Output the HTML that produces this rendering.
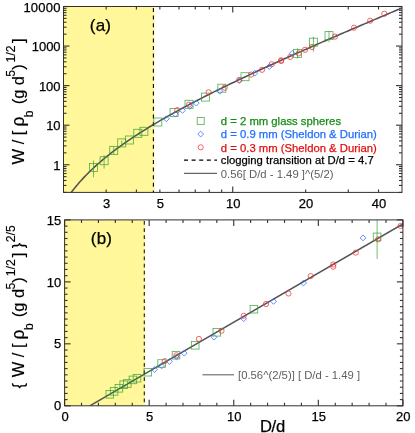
<!DOCTYPE html>
<html><head><meta charset="utf-8"><title>chart</title>
<style>html,body{margin:0;padding:0;background:#fff;}svg{display:block;font-family:'Liberation Sans', sans-serif;will-change:transform;opacity:0.999;}</style></head><body>
<svg width="415" height="433" viewBox="0 0 415 433">
<rect x="0" y="0" width="415" height="433" fill="#ffffff"/>
<g id="panelA">
<rect x="63.5" y="6.5" width="90.9" height="185.9" fill="#FFF799"/>
<line x1="63.5" y1="192.4" x2="66.5" y2="192.4" stroke="#303030" stroke-width="1.1" />
<line x1="402" y1="192.4" x2="399" y2="192.4" stroke="#303030" stroke-width="1.1" />
<line x1="63.5" y1="185.43" x2="66.5" y2="185.43" stroke="#303030" stroke-width="1.1" />
<line x1="402" y1="185.43" x2="399" y2="185.43" stroke="#303030" stroke-width="1.1" />
<line x1="63.5" y1="180.49" x2="66.5" y2="180.49" stroke="#303030" stroke-width="1.1" />
<line x1="402" y1="180.49" x2="399" y2="180.49" stroke="#303030" stroke-width="1.1" />
<line x1="63.5" y1="176.66" x2="66.5" y2="176.66" stroke="#303030" stroke-width="1.1" />
<line x1="402" y1="176.66" x2="399" y2="176.66" stroke="#303030" stroke-width="1.1" />
<line x1="63.5" y1="173.52" x2="66.5" y2="173.52" stroke="#303030" stroke-width="1.1" />
<line x1="402" y1="173.52" x2="399" y2="173.52" stroke="#303030" stroke-width="1.1" />
<line x1="63.5" y1="170.88" x2="66.5" y2="170.88" stroke="#303030" stroke-width="1.1" />
<line x1="402" y1="170.88" x2="399" y2="170.88" stroke="#303030" stroke-width="1.1" />
<line x1="63.5" y1="168.58" x2="66.5" y2="168.58" stroke="#303030" stroke-width="1.1" />
<line x1="402" y1="168.58" x2="399" y2="168.58" stroke="#303030" stroke-width="1.1" />
<line x1="63.5" y1="166.56" x2="66.5" y2="166.56" stroke="#303030" stroke-width="1.1" />
<line x1="402" y1="166.56" x2="399" y2="166.56" stroke="#303030" stroke-width="1.1" />
<line x1="63.5" y1="164.75" x2="69.5" y2="164.75" stroke="#303030" stroke-width="1.1" />
<line x1="402" y1="164.75" x2="396" y2="164.75" stroke="#303030" stroke-width="1.1" />
<line x1="63.5" y1="152.84" x2="66.5" y2="152.84" stroke="#303030" stroke-width="1.1" />
<line x1="402" y1="152.84" x2="399" y2="152.84" stroke="#303030" stroke-width="1.1" />
<line x1="63.5" y1="145.87" x2="66.5" y2="145.87" stroke="#303030" stroke-width="1.1" />
<line x1="402" y1="145.87" x2="399" y2="145.87" stroke="#303030" stroke-width="1.1" />
<line x1="63.5" y1="140.93" x2="66.5" y2="140.93" stroke="#303030" stroke-width="1.1" />
<line x1="402" y1="140.93" x2="399" y2="140.93" stroke="#303030" stroke-width="1.1" />
<line x1="63.5" y1="137.09" x2="66.5" y2="137.09" stroke="#303030" stroke-width="1.1" />
<line x1="402" y1="137.09" x2="399" y2="137.09" stroke="#303030" stroke-width="1.1" />
<line x1="63.5" y1="133.96" x2="66.5" y2="133.96" stroke="#303030" stroke-width="1.1" />
<line x1="402" y1="133.96" x2="399" y2="133.96" stroke="#303030" stroke-width="1.1" />
<line x1="63.5" y1="131.31" x2="66.5" y2="131.31" stroke="#303030" stroke-width="1.1" />
<line x1="402" y1="131.31" x2="399" y2="131.31" stroke="#303030" stroke-width="1.1" />
<line x1="63.5" y1="129.02" x2="66.5" y2="129.02" stroke="#303030" stroke-width="1.1" />
<line x1="402" y1="129.02" x2="399" y2="129.02" stroke="#303030" stroke-width="1.1" />
<line x1="63.5" y1="127" x2="66.5" y2="127" stroke="#303030" stroke-width="1.1" />
<line x1="402" y1="127" x2="399" y2="127" stroke="#303030" stroke-width="1.1" />
<line x1="63.5" y1="125.19" x2="69.5" y2="125.19" stroke="#303030" stroke-width="1.1" />
<line x1="402" y1="125.19" x2="396" y2="125.19" stroke="#303030" stroke-width="1.1" />
<line x1="63.5" y1="113.28" x2="66.5" y2="113.28" stroke="#303030" stroke-width="1.1" />
<line x1="402" y1="113.28" x2="399" y2="113.28" stroke="#303030" stroke-width="1.1" />
<line x1="63.5" y1="106.31" x2="66.5" y2="106.31" stroke="#303030" stroke-width="1.1" />
<line x1="402" y1="106.31" x2="399" y2="106.31" stroke="#303030" stroke-width="1.1" />
<line x1="63.5" y1="101.37" x2="66.5" y2="101.37" stroke="#303030" stroke-width="1.1" />
<line x1="402" y1="101.37" x2="399" y2="101.37" stroke="#303030" stroke-width="1.1" />
<line x1="63.5" y1="97.53" x2="66.5" y2="97.53" stroke="#303030" stroke-width="1.1" />
<line x1="402" y1="97.53" x2="399" y2="97.53" stroke="#303030" stroke-width="1.1" />
<line x1="63.5" y1="94.4" x2="66.5" y2="94.4" stroke="#303030" stroke-width="1.1" />
<line x1="402" y1="94.4" x2="399" y2="94.4" stroke="#303030" stroke-width="1.1" />
<line x1="63.5" y1="91.75" x2="66.5" y2="91.75" stroke="#303030" stroke-width="1.1" />
<line x1="402" y1="91.75" x2="399" y2="91.75" stroke="#303030" stroke-width="1.1" />
<line x1="63.5" y1="89.46" x2="66.5" y2="89.46" stroke="#303030" stroke-width="1.1" />
<line x1="402" y1="89.46" x2="399" y2="89.46" stroke="#303030" stroke-width="1.1" />
<line x1="63.5" y1="87.43" x2="66.5" y2="87.43" stroke="#303030" stroke-width="1.1" />
<line x1="402" y1="87.43" x2="399" y2="87.43" stroke="#303030" stroke-width="1.1" />
<line x1="63.5" y1="85.62" x2="69.5" y2="85.62" stroke="#303030" stroke-width="1.1" />
<line x1="402" y1="85.62" x2="396" y2="85.62" stroke="#303030" stroke-width="1.1" />
<line x1="63.5" y1="73.71" x2="66.5" y2="73.71" stroke="#303030" stroke-width="1.1" />
<line x1="402" y1="73.71" x2="399" y2="73.71" stroke="#303030" stroke-width="1.1" />
<line x1="63.5" y1="66.75" x2="66.5" y2="66.75" stroke="#303030" stroke-width="1.1" />
<line x1="402" y1="66.75" x2="399" y2="66.75" stroke="#303030" stroke-width="1.1" />
<line x1="63.5" y1="61.81" x2="66.5" y2="61.81" stroke="#303030" stroke-width="1.1" />
<line x1="402" y1="61.81" x2="399" y2="61.81" stroke="#303030" stroke-width="1.1" />
<line x1="63.5" y1="57.97" x2="66.5" y2="57.97" stroke="#303030" stroke-width="1.1" />
<line x1="402" y1="57.97" x2="399" y2="57.97" stroke="#303030" stroke-width="1.1" />
<line x1="63.5" y1="54.84" x2="66.5" y2="54.84" stroke="#303030" stroke-width="1.1" />
<line x1="402" y1="54.84" x2="399" y2="54.84" stroke="#303030" stroke-width="1.1" />
<line x1="63.5" y1="52.19" x2="66.5" y2="52.19" stroke="#303030" stroke-width="1.1" />
<line x1="402" y1="52.19" x2="399" y2="52.19" stroke="#303030" stroke-width="1.1" />
<line x1="63.5" y1="49.9" x2="66.5" y2="49.9" stroke="#303030" stroke-width="1.1" />
<line x1="402" y1="49.9" x2="399" y2="49.9" stroke="#303030" stroke-width="1.1" />
<line x1="63.5" y1="47.87" x2="66.5" y2="47.87" stroke="#303030" stroke-width="1.1" />
<line x1="402" y1="47.87" x2="399" y2="47.87" stroke="#303030" stroke-width="1.1" />
<line x1="63.5" y1="46.06" x2="69.5" y2="46.06" stroke="#303030" stroke-width="1.1" />
<line x1="402" y1="46.06" x2="396" y2="46.06" stroke="#303030" stroke-width="1.1" />
<line x1="63.5" y1="34.15" x2="66.5" y2="34.15" stroke="#303030" stroke-width="1.1" />
<line x1="402" y1="34.15" x2="399" y2="34.15" stroke="#303030" stroke-width="1.1" />
<line x1="63.5" y1="27.19" x2="66.5" y2="27.19" stroke="#303030" stroke-width="1.1" />
<line x1="402" y1="27.19" x2="399" y2="27.19" stroke="#303030" stroke-width="1.1" />
<line x1="63.5" y1="22.24" x2="66.5" y2="22.24" stroke="#303030" stroke-width="1.1" />
<line x1="402" y1="22.24" x2="399" y2="22.24" stroke="#303030" stroke-width="1.1" />
<line x1="63.5" y1="18.41" x2="66.5" y2="18.41" stroke="#303030" stroke-width="1.1" />
<line x1="402" y1="18.41" x2="399" y2="18.41" stroke="#303030" stroke-width="1.1" />
<line x1="63.5" y1="15.28" x2="66.5" y2="15.28" stroke="#303030" stroke-width="1.1" />
<line x1="402" y1="15.28" x2="399" y2="15.28" stroke="#303030" stroke-width="1.1" />
<line x1="63.5" y1="12.63" x2="66.5" y2="12.63" stroke="#303030" stroke-width="1.1" />
<line x1="402" y1="12.63" x2="399" y2="12.63" stroke="#303030" stroke-width="1.1" />
<line x1="63.5" y1="10.33" x2="66.5" y2="10.33" stroke="#303030" stroke-width="1.1" />
<line x1="402" y1="10.33" x2="399" y2="10.33" stroke="#303030" stroke-width="1.1" />
<line x1="63.5" y1="8.31" x2="66.5" y2="8.31" stroke="#303030" stroke-width="1.1" />
<line x1="402" y1="8.31" x2="399" y2="8.31" stroke="#303030" stroke-width="1.1" />
<line x1="63.5" y1="6.5" x2="69.5" y2="6.5" stroke="#303030" stroke-width="1.1" />
<line x1="402" y1="6.5" x2="396" y2="6.5" stroke="#303030" stroke-width="1.1" />
<line x1="106.14" y1="192.4" x2="106.14" y2="189.4" stroke="#303030" stroke-width="1.1" />
<line x1="106.14" y1="6.5" x2="106.14" y2="9.5" stroke="#303030" stroke-width="1.1" />
<line x1="136.39" y1="192.4" x2="136.39" y2="189.4" stroke="#303030" stroke-width="1.1" />
<line x1="136.39" y1="6.5" x2="136.39" y2="9.5" stroke="#303030" stroke-width="1.1" />
<line x1="159.86" y1="192.4" x2="159.86" y2="189.4" stroke="#303030" stroke-width="1.1" />
<line x1="159.86" y1="6.5" x2="159.86" y2="9.5" stroke="#303030" stroke-width="1.1" />
<line x1="179.03" y1="192.4" x2="179.03" y2="189.4" stroke="#303030" stroke-width="1.1" />
<line x1="179.03" y1="6.5" x2="179.03" y2="9.5" stroke="#303030" stroke-width="1.1" />
<line x1="195.24" y1="192.4" x2="195.24" y2="189.4" stroke="#303030" stroke-width="1.1" />
<line x1="195.24" y1="6.5" x2="195.24" y2="9.5" stroke="#303030" stroke-width="1.1" />
<line x1="209.28" y1="192.4" x2="209.28" y2="189.4" stroke="#303030" stroke-width="1.1" />
<line x1="209.28" y1="6.5" x2="209.28" y2="9.5" stroke="#303030" stroke-width="1.1" />
<line x1="221.67" y1="192.4" x2="221.67" y2="189.4" stroke="#303030" stroke-width="1.1" />
<line x1="221.67" y1="6.5" x2="221.67" y2="9.5" stroke="#303030" stroke-width="1.1" />
<line x1="232.75" y1="192.4" x2="232.75" y2="186.4" stroke="#303030" stroke-width="1.1" />
<line x1="232.75" y1="6.5" x2="232.75" y2="12.5" stroke="#303030" stroke-width="1.1" />
<line x1="305.64" y1="192.4" x2="305.64" y2="189.4" stroke="#303030" stroke-width="1.1" />
<line x1="305.64" y1="6.5" x2="305.64" y2="9.5" stroke="#303030" stroke-width="1.1" />
<line x1="348.28" y1="192.4" x2="348.28" y2="189.4" stroke="#303030" stroke-width="1.1" />
<line x1="348.28" y1="6.5" x2="348.28" y2="9.5" stroke="#303030" stroke-width="1.1" />
<line x1="378.53" y1="192.4" x2="378.53" y2="189.4" stroke="#303030" stroke-width="1.1" />
<line x1="378.53" y1="6.5" x2="378.53" y2="9.5" stroke="#303030" stroke-width="1.1" />
<clipPath id="clipA"><rect x="63.5" y="6.5" width="338.5" height="185.9"/></clipPath>
<polyline clip-path="url(#clipA)" fill="none" stroke="#525256" stroke-width="1.55" points="71.2,192.43 72.86,190.27 74.51,188.18 76.17,186.16 77.82,184.2 79.47,182.3 81.13,180.45 82.78,178.64 84.43,176.89 86.09,175.17 87.74,173.5 89.4,171.87 91.05,170.26 92.7,168.7 94.36,167.16 96.01,165.66 97.67,164.18 99.32,162.73 100.97,161.31 102.63,159.91 104.28,158.53 105.94,157.17 107.59,155.84 109.24,154.52 110.9,153.23 112.55,151.95 114.21,150.69 115.86,149.45 117.51,148.22 119.17,147.01 120.82,145.81 122.48,144.63 124.13,143.46 125.78,142.31 127.44,141.17 129.09,140.03 130.75,138.92 132.4,137.81 134.05,136.71 135.71,135.63 137.36,134.55 139.02,133.48 140.67,132.43 142.32,131.38 143.98,130.34 145.63,129.31 147.29,128.29 148.94,127.28 150.59,126.27 152.25,125.28 153.9,124.28 155.56,123.3 157.21,122.33 158.86,121.36 160.52,120.39 162.17,119.44 163.83,118.49 165.48,117.54 167.13,116.6 168.79,115.67 170.44,114.74 172.1,113.82 173.75,112.9 175.4,111.99 177.06,111.08 178.71,110.18 180.37,109.28 182.02,108.39 183.67,107.5 185.33,106.62 186.98,105.74 188.64,104.86 190.29,103.99 191.94,103.12 193.6,102.26 195.25,101.4 196.91,100.54 198.56,99.69 200.21,98.84 201.87,98 203.52,97.15 205.18,96.31 206.83,95.48 208.48,94.64 210.14,93.81 211.79,92.99 213.45,92.16 215.1,91.34 216.75,90.52 218.41,89.71 220.06,88.89 221.72,88.08 223.37,87.27 225.02,86.47 226.68,85.66 228.33,84.86 229.99,84.07 231.64,83.27 233.29,82.47 234.95,81.68 236.6,80.89 238.26,80.1 239.91,79.32 241.56,78.53 243.22,77.75 244.87,76.97 246.53,76.19 248.18,75.42 249.83,74.64 251.49,73.87 253.14,73.1 254.8,72.33 256.45,71.56 258.1,70.8 259.76,70.03 261.41,69.27 263.07,68.51 264.72,67.75 266.37,66.99 268.03,66.23 269.68,65.48 271.34,64.72 272.99,63.97 274.64,63.22 276.3,62.47 277.95,61.72 279.61,60.97 281.26,60.23 282.91,59.48 284.57,58.74 286.22,58 287.88,57.26 289.53,56.52 291.18,55.78 292.84,55.04 294.49,54.3 296.14,53.56 297.8,52.83 299.45,52.1 301.11,51.36 302.76,50.63 304.41,49.9 306.07,49.17 307.72,48.44 309.38,47.71 311.03,46.98 312.68,46.26 314.34,45.53 315.99,44.81 317.65,44.08 319.3,43.36 320.95,42.64 322.61,41.91 324.26,41.19 325.92,40.47 327.57,39.75 329.22,39.04 330.88,38.32 332.53,37.6 334.19,36.88 335.84,36.17 337.49,35.45 339.15,34.74 340.8,34.02 342.46,33.31 344.11,32.6 345.76,31.89 347.42,31.17 349.07,30.46 350.73,29.75 352.38,29.04 354.03,28.33 355.69,27.63 357.34,26.92 359,26.21 360.65,25.5 362.3,24.8 363.96,24.09 365.61,23.38 367.27,22.68 368.92,21.98 370.57,21.27 372.23,20.57 373.88,19.86 375.54,19.16 377.19,18.46 378.84,17.76 380.5,17.06 382.15,16.35 383.81,15.65 385.46,14.95 387.11,14.25 388.77,13.55 390.42,12.86 392.08,12.16 393.73,11.46 395.38,10.76 397.04,10.06 398.69,9.37 400.35,8.67 402,7.97"/>
<line x1="153.4" y1="6.5" x2="153.4" y2="192.4" stroke="#000" stroke-width="1.1" stroke-dasharray="4 3.6" stroke-dashoffset="-1.5"/>
<line x1="93.5" y1="160.5" x2="93.5" y2="177.2" stroke="#2e9e2e" stroke-width="0.85" stroke-opacity="0.8"/>
<rect x="89.5" y="163.5" width="8" height="8" fill="none" stroke="#2e9e2e" stroke-width="0.85" stroke-opacity="0.8"/>
<line x1="104.1" y1="155.3" x2="104.1" y2="168.6" stroke="#2e9e2e" stroke-width="0.85" stroke-opacity="0.8"/>
<rect x="100.1" y="156.7" width="8" height="8" fill="none" stroke="#2e9e2e" stroke-width="0.85" stroke-opacity="0.8"/>
<line x1="113.7" y1="146.8" x2="113.7" y2="154.6" stroke="#2e9e2e" stroke-width="0.85" stroke-opacity="0.8"/>
<rect x="109.7" y="146.4" width="8" height="8" fill="none" stroke="#2e9e2e" stroke-width="0.85" stroke-opacity="0.8"/>
<line x1="121.7" y1="140.7" x2="121.7" y2="145.1" stroke="#2e9e2e" stroke-width="0.85" stroke-opacity="0.8"/>
<rect x="117.7" y="138.9" width="8" height="8" fill="none" stroke="#2e9e2e" stroke-width="0.85" stroke-opacity="0.8"/>
<rect x="125.4" y="136" width="8" height="8" fill="none" stroke="#2e9e2e" stroke-width="0.85" stroke-opacity="0.8"/>
<rect x="133.8" y="129.3" width="8" height="8" fill="none" stroke="#2e9e2e" stroke-width="0.85" stroke-opacity="0.8"/>
<rect x="139.9" y="127.3" width="8" height="8" fill="none" stroke="#2e9e2e" stroke-width="0.85" stroke-opacity="0.8"/>
<rect x="153.8" y="118" width="8" height="8" fill="none" stroke="#2e9e2e" stroke-width="0.85" stroke-opacity="0.8"/>
<rect x="170.1" y="108.5" width="8" height="8" fill="none" stroke="#2e9e2e" stroke-width="0.85" stroke-opacity="0.8"/>
<rect x="185" y="100.3" width="8" height="8" fill="none" stroke="#2e9e2e" stroke-width="0.85" stroke-opacity="0.8"/>
<rect x="201.4" y="93.1" width="8" height="8" fill="none" stroke="#2e9e2e" stroke-width="0.85" stroke-opacity="0.8"/>
<rect x="217.8" y="84.2" width="8" height="8" fill="none" stroke="#2e9e2e" stroke-width="0.85" stroke-opacity="0.8"/>
<rect x="241" y="72.7" width="8" height="8" fill="none" stroke="#2e9e2e" stroke-width="0.85" stroke-opacity="0.8"/>
<line x1="297.5" y1="48.4" x2="297.5" y2="58.4" stroke="#2e9e2e" stroke-width="0.85" stroke-opacity="0.8"/>
<rect x="293.5" y="49.4" width="8" height="8" fill="none" stroke="#2e9e2e" stroke-width="0.85" stroke-opacity="0.8"/>
<line x1="313.4" y1="36.7" x2="313.4" y2="51.7" stroke="#2e9e2e" stroke-width="0.85" stroke-opacity="0.8"/>
<rect x="309.4" y="38.2" width="8" height="8" fill="none" stroke="#2e9e2e" stroke-width="0.85" stroke-opacity="0.8"/>
<line x1="329" y1="31.1" x2="329" y2="42.1" stroke="#2e9e2e" stroke-width="0.85" stroke-opacity="0.8"/>
<rect x="325" y="31.6" width="8" height="8" fill="none" stroke="#2e9e2e" stroke-width="0.85" stroke-opacity="0.8"/>
<path d="M166.4 115.9L169.3 118.8L166.4 121.7L163.5 118.8Z" fill="none" stroke="#2f6fff" stroke-width="0.85" stroke-opacity="0.9"/>
<path d="M175.3 111.3L178.2 114.2L175.3 117.1L172.4 114.2Z" fill="none" stroke="#2f6fff" stroke-width="0.85" stroke-opacity="0.9"/>
<path d="M182.5 107.5L185.4 110.4L182.5 113.3L179.6 110.4Z" fill="none" stroke="#2f6fff" stroke-width="0.85" stroke-opacity="0.9"/>
<path d="M189.8 103.4L192.7 106.3L189.8 109.2L186.9 106.3Z" fill="none" stroke="#2f6fff" stroke-width="0.85" stroke-opacity="0.9"/>
<path d="M196.3 100.2L199.2 103.1L196.3 106L193.4 103.1Z" fill="none" stroke="#2f6fff" stroke-width="0.85" stroke-opacity="0.9"/>
<path d="M219.9 88.4L222.8 91.3L219.9 94.2L217 91.3Z" fill="none" stroke="#2f6fff" stroke-width="0.85" stroke-opacity="0.9"/>
<path d="M239.2 77.7L242.1 80.6L239.2 83.5L236.3 80.6Z" fill="none" stroke="#2f6fff" stroke-width="0.85" stroke-opacity="0.9"/>
<path d="M254.8 70.2L257.7 73.1L254.8 76L251.9 73.1Z" fill="none" stroke="#2f6fff" stroke-width="0.85" stroke-opacity="0.9"/>
<path d="M269.3 63.7L272.2 66.6L269.3 69.5L266.4 66.6Z" fill="none" stroke="#2f6fff" stroke-width="0.85" stroke-opacity="0.9"/>
<path d="M292.2 50.5L295.1 53.4L292.2 56.3L289.3 53.4Z" fill="none" stroke="#2f6fff" stroke-width="0.85" stroke-opacity="0.9"/>
<circle cx="177.2" cy="110.1" r="2.6" fill="none" stroke="#ea3838" stroke-width="0.85" stroke-opacity="0.9"/>
<circle cx="189" cy="104.6" r="2.6" fill="none" stroke="#ea3838" stroke-width="0.85" stroke-opacity="0.9"/>
<circle cx="208.6" cy="92.3" r="2.6" fill="none" stroke="#ea3838" stroke-width="0.85" stroke-opacity="0.9"/>
<circle cx="224.7" cy="87.7" r="2.6" fill="none" stroke="#ea3838" stroke-width="0.85" stroke-opacity="0.9"/>
<circle cx="239.2" cy="79.9" r="2.6" fill="none" stroke="#ea3838" stroke-width="0.85" stroke-opacity="0.9"/>
<circle cx="251.2" cy="74.6" r="2.6" fill="none" stroke="#ea3838" stroke-width="0.85" stroke-opacity="0.9"/>
<circle cx="262" cy="69.8" r="2.6" fill="none" stroke="#ea3838" stroke-width="0.85" stroke-opacity="0.9"/>
<circle cx="271.7" cy="64.2" r="2.6" fill="none" stroke="#ea3838" stroke-width="0.85" stroke-opacity="0.9"/>
<circle cx="281.1" cy="60.3" r="2.6" fill="none" stroke="#ea3838" stroke-width="0.85" stroke-opacity="0.9"/>
<circle cx="281.1" cy="61" r="2.6" fill="none" stroke="#ea3838" stroke-width="0.85" stroke-opacity="0.9"/>
<circle cx="290.2" cy="57" r="2.6" fill="none" stroke="#ea3838" stroke-width="0.85" stroke-opacity="0.9"/>
<circle cx="298.7" cy="53.4" r="2.6" fill="none" stroke="#ea3838" stroke-width="0.85" stroke-opacity="0.9"/>
<circle cx="305" cy="49.8" r="2.6" fill="none" stroke="#ea3838" stroke-width="0.85" stroke-opacity="0.9"/>
<circle cx="311.9" cy="47" r="2.6" fill="none" stroke="#ea3838" stroke-width="0.85" stroke-opacity="0.9"/>
<circle cx="335" cy="36.6" r="2.6" fill="none" stroke="#ea3838" stroke-width="0.85" stroke-opacity="0.9"/>
<circle cx="354" cy="27.7" r="2.6" fill="none" stroke="#ea3838" stroke-width="0.85" stroke-opacity="0.9"/>
<circle cx="370.2" cy="20.7" r="2.6" fill="none" stroke="#ea3838" stroke-width="0.85" stroke-opacity="0.9"/>
<circle cx="384.3" cy="13.8" r="2.6" fill="none" stroke="#ea3838" stroke-width="0.85" stroke-opacity="0.9"/>
<rect x="63.5" y="6.5" width="338.5" height="185.9" fill="none" stroke="#303030" stroke-width="1"/>
<text x="60.6" y="11.7" font-size="13.0" text-anchor="end" fill="#000000" stroke="#000000" stroke-width="0.25" letter-spacing="0.2">10000</text>
<text x="60.6" y="51.36" font-size="13.0" text-anchor="end" fill="#000000" stroke="#000000" stroke-width="0.25" >1000</text>
<text x="60.6" y="90.92" font-size="13.0" text-anchor="end" fill="#000000" stroke="#000000" stroke-width="0.25" >100</text>
<text x="60.6" y="130.49" font-size="13.0" text-anchor="end" fill="#000000" stroke="#000000" stroke-width="0.25" >10</text>
<text x="60.6" y="170.05" font-size="13.0" text-anchor="end" fill="#000000" stroke="#000000" stroke-width="0.25" >1</text>
<text x="106.54" y="208.3" font-size="13.0" text-anchor="middle" fill="#000000" stroke="#000000" stroke-width="0.25" >3</text>
<text x="160.26" y="208.3" font-size="13.0" text-anchor="middle" fill="#000000" stroke="#000000" stroke-width="0.25" >5</text>
<text x="233.15" y="208.3" font-size="13.0" text-anchor="middle" fill="#000000" stroke="#000000" stroke-width="0.25" >10</text>
<text x="306.04" y="208.3" font-size="13.0" text-anchor="middle" fill="#000000" stroke="#000000" stroke-width="0.25" >20</text>
<text x="378.93" y="208.3" font-size="13.0" text-anchor="middle" fill="#000000" stroke="#000000" stroke-width="0.25" >40</text>
<text x="89.8" y="30.7" font-size="17.0" text-anchor="start" fill="#000000" stroke="#000000" stroke-width="0.25" letter-spacing="0.2">(a)</text>
<rect x="197.2" y="117.4" width="7" height="7" fill="none" stroke="#2e9e2e" stroke-width="0.85" stroke-opacity="0.8"/>
<path d="M200.7 131.2L203.6 134.1L200.7 137L197.8 134.1Z" fill="none" stroke="#2f6fff" stroke-width="0.85" stroke-opacity="0.9"/>
<circle cx="200.7" cy="147.3" r="2.6" fill="none" stroke="#ea3838" stroke-width="0.85" stroke-opacity="0.9"/>
<text x="220.8" y="124.7" font-size="11.3" text-anchor="start" fill="#148c14" stroke="#148c14" stroke-width="0.25" >d = 2 mm glass spheres</text>
<text x="220.8" y="138.3" font-size="11.3" text-anchor="start" fill="#1f6fff" stroke="#1f6fff" stroke-width="0.25" >d = 0.9 mm (Sheldon &amp; Durian)</text>
<text x="220.8" y="151.5" font-size="11.3" text-anchor="start" fill="#e01010" stroke="#e01010" stroke-width="0.25" >d = 0.3 mm (Sheldon &amp; Durian)</text>
<line x1="184" y1="160.1" x2="217" y2="160.1" stroke="#000" stroke-width="1.1" stroke-dasharray="4 3.6"/>
<text x="220.8" y="164.4" font-size="11.3" text-anchor="start" fill="#000" stroke="#000" stroke-width="0.25" >clogging transition at D/d = 4.7</text>
<line x1="184" y1="173.4" x2="217" y2="173.4" stroke="#666666" stroke-width="1.1" />
<text x="220.8" y="177.7" font-size="11.3" text-anchor="start" fill="#5e5e5e" stroke="#5e5e5e" stroke-width="0.0" >0.56[ D/d - 1.49 ]^(5/2)</text>
<text transform="translate(24,164.5) rotate(-90)" font-size="16.5" fill="#000000" stroke="#000000" stroke-width="0.15"><tspan dx="0">W</tspan> / [ <tspan font-size="17.5" dx="-0.6">&#961;</tspan><tspan dy="8.5" dx="-0.6" font-size="12.0">b</tspan><tspan dy="-8.5" dx="1.6"> (g </tspan><tspan dx="-0.2">d</tspan><tspan dy="-8.7" dx="-0.5" font-size="12.2">5</tspan><tspan dy="8.7" dx="0">)</tspan><tspan dy="-8.7" dx="1.8" font-size="12.2" letter-spacing="0.1">1/2</tspan><tspan dy="8.7" dx="-2.2"> ]</tspan></text>
</g>
<g id="panelB">
<rect x="64.6" y="219.9" width="80.6" height="185.9" fill="#FFF799"/>
<line x1="64.6" y1="405.8" x2="70.6" y2="405.8" stroke="#303030" stroke-width="1.1" />
<line x1="402.9" y1="405.8" x2="396.9" y2="405.8" stroke="#303030" stroke-width="1.1" />
<line x1="64.6" y1="399.6" x2="67.6" y2="399.6" stroke="#303030" stroke-width="1.1" />
<line x1="402.9" y1="399.6" x2="399.9" y2="399.6" stroke="#303030" stroke-width="1.1" />
<line x1="64.6" y1="393.41" x2="67.6" y2="393.41" stroke="#303030" stroke-width="1.1" />
<line x1="402.9" y1="393.41" x2="399.9" y2="393.41" stroke="#303030" stroke-width="1.1" />
<line x1="64.6" y1="387.21" x2="67.6" y2="387.21" stroke="#303030" stroke-width="1.1" />
<line x1="402.9" y1="387.21" x2="399.9" y2="387.21" stroke="#303030" stroke-width="1.1" />
<line x1="64.6" y1="381.01" x2="67.6" y2="381.01" stroke="#303030" stroke-width="1.1" />
<line x1="402.9" y1="381.01" x2="399.9" y2="381.01" stroke="#303030" stroke-width="1.1" />
<line x1="64.6" y1="374.82" x2="67.6" y2="374.82" stroke="#303030" stroke-width="1.1" />
<line x1="402.9" y1="374.82" x2="399.9" y2="374.82" stroke="#303030" stroke-width="1.1" />
<line x1="64.6" y1="368.62" x2="67.6" y2="368.62" stroke="#303030" stroke-width="1.1" />
<line x1="402.9" y1="368.62" x2="399.9" y2="368.62" stroke="#303030" stroke-width="1.1" />
<line x1="64.6" y1="362.42" x2="67.6" y2="362.42" stroke="#303030" stroke-width="1.1" />
<line x1="402.9" y1="362.42" x2="399.9" y2="362.42" stroke="#303030" stroke-width="1.1" />
<line x1="64.6" y1="356.23" x2="67.6" y2="356.23" stroke="#303030" stroke-width="1.1" />
<line x1="402.9" y1="356.23" x2="399.9" y2="356.23" stroke="#303030" stroke-width="1.1" />
<line x1="64.6" y1="350.03" x2="67.6" y2="350.03" stroke="#303030" stroke-width="1.1" />
<line x1="402.9" y1="350.03" x2="399.9" y2="350.03" stroke="#303030" stroke-width="1.1" />
<line x1="64.6" y1="343.83" x2="70.6" y2="343.83" stroke="#303030" stroke-width="1.1" />
<line x1="402.9" y1="343.83" x2="396.9" y2="343.83" stroke="#303030" stroke-width="1.1" />
<line x1="64.6" y1="337.64" x2="67.6" y2="337.64" stroke="#303030" stroke-width="1.1" />
<line x1="402.9" y1="337.64" x2="399.9" y2="337.64" stroke="#303030" stroke-width="1.1" />
<line x1="64.6" y1="331.44" x2="67.6" y2="331.44" stroke="#303030" stroke-width="1.1" />
<line x1="402.9" y1="331.44" x2="399.9" y2="331.44" stroke="#303030" stroke-width="1.1" />
<line x1="64.6" y1="325.24" x2="67.6" y2="325.24" stroke="#303030" stroke-width="1.1" />
<line x1="402.9" y1="325.24" x2="399.9" y2="325.24" stroke="#303030" stroke-width="1.1" />
<line x1="64.6" y1="319.05" x2="67.6" y2="319.05" stroke="#303030" stroke-width="1.1" />
<line x1="402.9" y1="319.05" x2="399.9" y2="319.05" stroke="#303030" stroke-width="1.1" />
<line x1="64.6" y1="312.85" x2="67.6" y2="312.85" stroke="#303030" stroke-width="1.1" />
<line x1="402.9" y1="312.85" x2="399.9" y2="312.85" stroke="#303030" stroke-width="1.1" />
<line x1="64.6" y1="306.65" x2="67.6" y2="306.65" stroke="#303030" stroke-width="1.1" />
<line x1="402.9" y1="306.65" x2="399.9" y2="306.65" stroke="#303030" stroke-width="1.1" />
<line x1="64.6" y1="300.46" x2="67.6" y2="300.46" stroke="#303030" stroke-width="1.1" />
<line x1="402.9" y1="300.46" x2="399.9" y2="300.46" stroke="#303030" stroke-width="1.1" />
<line x1="64.6" y1="294.26" x2="67.6" y2="294.26" stroke="#303030" stroke-width="1.1" />
<line x1="402.9" y1="294.26" x2="399.9" y2="294.26" stroke="#303030" stroke-width="1.1" />
<line x1="64.6" y1="288.06" x2="67.6" y2="288.06" stroke="#303030" stroke-width="1.1" />
<line x1="402.9" y1="288.06" x2="399.9" y2="288.06" stroke="#303030" stroke-width="1.1" />
<line x1="64.6" y1="281.87" x2="70.6" y2="281.87" stroke="#303030" stroke-width="1.1" />
<line x1="402.9" y1="281.87" x2="396.9" y2="281.87" stroke="#303030" stroke-width="1.1" />
<line x1="64.6" y1="275.67" x2="67.6" y2="275.67" stroke="#303030" stroke-width="1.1" />
<line x1="402.9" y1="275.67" x2="399.9" y2="275.67" stroke="#303030" stroke-width="1.1" />
<line x1="64.6" y1="269.47" x2="67.6" y2="269.47" stroke="#303030" stroke-width="1.1" />
<line x1="402.9" y1="269.47" x2="399.9" y2="269.47" stroke="#303030" stroke-width="1.1" />
<line x1="64.6" y1="263.28" x2="67.6" y2="263.28" stroke="#303030" stroke-width="1.1" />
<line x1="402.9" y1="263.28" x2="399.9" y2="263.28" stroke="#303030" stroke-width="1.1" />
<line x1="64.6" y1="257.08" x2="67.6" y2="257.08" stroke="#303030" stroke-width="1.1" />
<line x1="402.9" y1="257.08" x2="399.9" y2="257.08" stroke="#303030" stroke-width="1.1" />
<line x1="64.6" y1="250.88" x2="67.6" y2="250.88" stroke="#303030" stroke-width="1.1" />
<line x1="402.9" y1="250.88" x2="399.9" y2="250.88" stroke="#303030" stroke-width="1.1" />
<line x1="64.6" y1="244.69" x2="67.6" y2="244.69" stroke="#303030" stroke-width="1.1" />
<line x1="402.9" y1="244.69" x2="399.9" y2="244.69" stroke="#303030" stroke-width="1.1" />
<line x1="64.6" y1="238.49" x2="67.6" y2="238.49" stroke="#303030" stroke-width="1.1" />
<line x1="402.9" y1="238.49" x2="399.9" y2="238.49" stroke="#303030" stroke-width="1.1" />
<line x1="64.6" y1="232.29" x2="67.6" y2="232.29" stroke="#303030" stroke-width="1.1" />
<line x1="402.9" y1="232.29" x2="399.9" y2="232.29" stroke="#303030" stroke-width="1.1" />
<line x1="64.6" y1="226.1" x2="67.6" y2="226.1" stroke="#303030" stroke-width="1.1" />
<line x1="402.9" y1="226.1" x2="399.9" y2="226.1" stroke="#303030" stroke-width="1.1" />
<line x1="64.6" y1="219.9" x2="70.6" y2="219.9" stroke="#303030" stroke-width="1.1" />
<line x1="402.9" y1="219.9" x2="396.9" y2="219.9" stroke="#303030" stroke-width="1.1" />
<line x1="64.6" y1="405.8" x2="64.6" y2="399.8" stroke="#303030" stroke-width="1.1" />
<line x1="64.6" y1="219.9" x2="64.6" y2="225.9" stroke="#303030" stroke-width="1.1" />
<line x1="81.51" y1="405.8" x2="81.51" y2="402.8" stroke="#303030" stroke-width="1.1" />
<line x1="81.51" y1="219.9" x2="81.51" y2="222.9" stroke="#303030" stroke-width="1.1" />
<line x1="98.43" y1="405.8" x2="98.43" y2="402.8" stroke="#303030" stroke-width="1.1" />
<line x1="98.43" y1="219.9" x2="98.43" y2="222.9" stroke="#303030" stroke-width="1.1" />
<line x1="115.34" y1="405.8" x2="115.34" y2="402.8" stroke="#303030" stroke-width="1.1" />
<line x1="115.34" y1="219.9" x2="115.34" y2="222.9" stroke="#303030" stroke-width="1.1" />
<line x1="132.26" y1="405.8" x2="132.26" y2="402.8" stroke="#303030" stroke-width="1.1" />
<line x1="132.26" y1="219.9" x2="132.26" y2="222.9" stroke="#303030" stroke-width="1.1" />
<line x1="149.17" y1="405.8" x2="149.17" y2="399.8" stroke="#303030" stroke-width="1.1" />
<line x1="149.17" y1="219.9" x2="149.17" y2="225.9" stroke="#303030" stroke-width="1.1" />
<line x1="166.09" y1="405.8" x2="166.09" y2="402.8" stroke="#303030" stroke-width="1.1" />
<line x1="166.09" y1="219.9" x2="166.09" y2="222.9" stroke="#303030" stroke-width="1.1" />
<line x1="183" y1="405.8" x2="183" y2="402.8" stroke="#303030" stroke-width="1.1" />
<line x1="183" y1="219.9" x2="183" y2="222.9" stroke="#303030" stroke-width="1.1" />
<line x1="199.92" y1="405.8" x2="199.92" y2="402.8" stroke="#303030" stroke-width="1.1" />
<line x1="199.92" y1="219.9" x2="199.92" y2="222.9" stroke="#303030" stroke-width="1.1" />
<line x1="216.83" y1="405.8" x2="216.83" y2="402.8" stroke="#303030" stroke-width="1.1" />
<line x1="216.83" y1="219.9" x2="216.83" y2="222.9" stroke="#303030" stroke-width="1.1" />
<line x1="233.75" y1="405.8" x2="233.75" y2="399.8" stroke="#303030" stroke-width="1.1" />
<line x1="233.75" y1="219.9" x2="233.75" y2="225.9" stroke="#303030" stroke-width="1.1" />
<line x1="250.66" y1="405.8" x2="250.66" y2="402.8" stroke="#303030" stroke-width="1.1" />
<line x1="250.66" y1="219.9" x2="250.66" y2="222.9" stroke="#303030" stroke-width="1.1" />
<line x1="267.58" y1="405.8" x2="267.58" y2="402.8" stroke="#303030" stroke-width="1.1" />
<line x1="267.58" y1="219.9" x2="267.58" y2="222.9" stroke="#303030" stroke-width="1.1" />
<line x1="284.5" y1="405.8" x2="284.5" y2="402.8" stroke="#303030" stroke-width="1.1" />
<line x1="284.5" y1="219.9" x2="284.5" y2="222.9" stroke="#303030" stroke-width="1.1" />
<line x1="301.41" y1="405.8" x2="301.41" y2="402.8" stroke="#303030" stroke-width="1.1" />
<line x1="301.41" y1="219.9" x2="301.41" y2="222.9" stroke="#303030" stroke-width="1.1" />
<line x1="318.32" y1="405.8" x2="318.32" y2="399.8" stroke="#303030" stroke-width="1.1" />
<line x1="318.32" y1="219.9" x2="318.32" y2="225.9" stroke="#303030" stroke-width="1.1" />
<line x1="335.24" y1="405.8" x2="335.24" y2="402.8" stroke="#303030" stroke-width="1.1" />
<line x1="335.24" y1="219.9" x2="335.24" y2="222.9" stroke="#303030" stroke-width="1.1" />
<line x1="352.15" y1="405.8" x2="352.15" y2="402.8" stroke="#303030" stroke-width="1.1" />
<line x1="352.15" y1="219.9" x2="352.15" y2="222.9" stroke="#303030" stroke-width="1.1" />
<line x1="369.07" y1="405.8" x2="369.07" y2="402.8" stroke="#303030" stroke-width="1.1" />
<line x1="369.07" y1="219.9" x2="369.07" y2="222.9" stroke="#303030" stroke-width="1.1" />
<line x1="385.98" y1="405.8" x2="385.98" y2="402.8" stroke="#303030" stroke-width="1.1" />
<line x1="385.98" y1="219.9" x2="385.98" y2="222.9" stroke="#303030" stroke-width="1.1" />
<line x1="402.9" y1="405.8" x2="402.9" y2="399.8" stroke="#303030" stroke-width="1.1" />
<line x1="402.9" y1="219.9" x2="402.9" y2="225.9" stroke="#303030" stroke-width="1.1" />
<clipPath id="clipB"><rect x="64.6" y="219.9" width="338.3" height="185.9"/></clipPath>
<line clip-path="url(#clipB)" x1="89.8" y1="405.8" x2="402.9" y2="223.88" stroke="#525256" stroke-width="1.55"/>
<line x1="144.3" y1="219.9" x2="144.3" y2="405.8" stroke="#1a1a1a" stroke-width="1.1" stroke-dasharray="3.7 3.4" stroke-dashoffset="-1.2"/>
<rect x="106" y="390.5" width="7.6" height="7.6" fill="none" stroke="#2e9e2e" stroke-width="0.85" stroke-opacity="0.8"/>
<rect x="110.3" y="387.6" width="7.6" height="7.6" fill="none" stroke="#2e9e2e" stroke-width="0.85" stroke-opacity="0.8"/>
<rect x="115.1" y="384.5" width="7.6" height="7.6" fill="none" stroke="#2e9e2e" stroke-width="0.85" stroke-opacity="0.8"/>
<rect x="119.9" y="380.9" width="7.6" height="7.6" fill="none" stroke="#2e9e2e" stroke-width="0.85" stroke-opacity="0.8"/>
<rect x="123.5" y="379.7" width="7.6" height="7.6" fill="none" stroke="#2e9e2e" stroke-width="0.85" stroke-opacity="0.8"/>
<rect x="129.1" y="376.1" width="7.6" height="7.6" fill="none" stroke="#2e9e2e" stroke-width="0.85" stroke-opacity="0.8"/>
<rect x="133.2" y="374.4" width="7.6" height="7.6" fill="none" stroke="#2e9e2e" stroke-width="0.85" stroke-opacity="0.8"/>
<rect x="144" y="368.4" width="7.6" height="7.6" fill="none" stroke="#2e9e2e" stroke-width="0.85" stroke-opacity="0.8"/>
<rect x="157.8" y="359.7" width="7.6" height="7.6" fill="none" stroke="#2e9e2e" stroke-width="0.85" stroke-opacity="0.8"/>
<rect x="172.2" y="351.4" width="7.6" height="7.6" fill="none" stroke="#2e9e2e" stroke-width="0.85" stroke-opacity="0.8"/>
<rect x="191.4" y="341.5" width="7.6" height="7.6" fill="none" stroke="#2e9e2e" stroke-width="0.85" stroke-opacity="0.8"/>
<rect x="213" y="328.5" width="7.6" height="7.6" fill="none" stroke="#2e9e2e" stroke-width="0.85" stroke-opacity="0.8"/>
<rect x="250.1" y="305.4" width="7.6" height="7.6" fill="none" stroke="#2e9e2e" stroke-width="0.85" stroke-opacity="0.8"/>
<line x1="377.1" y1="219.9" x2="377.1" y2="258.9" stroke="#2e9e2e" stroke-width="0.85" stroke-opacity="0.8"/>
<rect x="373.3" y="233.1" width="7.6" height="7.6" fill="none" stroke="#2e9e2e" stroke-width="0.85" stroke-opacity="0.8"/>
<path d="M154.6 366.6L157.5 369.5L154.6 372.4L151.7 369.5Z" fill="none" stroke="#2f6fff" stroke-width="0.85" stroke-opacity="0.9"/>
<path d="M161.6 363L164.5 365.9L161.6 368.8L158.7 365.9Z" fill="none" stroke="#2f6fff" stroke-width="0.85" stroke-opacity="0.9"/>
<path d="M169.5 358.6L172.4 361.5L169.5 364.4L166.6 361.5Z" fill="none" stroke="#2f6fff" stroke-width="0.85" stroke-opacity="0.9"/>
<path d="M176.4 354.1L179.3 357L176.4 359.9L173.5 357Z" fill="none" stroke="#2f6fff" stroke-width="0.85" stroke-opacity="0.9"/>
<path d="M184.2 350.3L187.1 353.2L184.2 356.1L181.3 353.2Z" fill="none" stroke="#2f6fff" stroke-width="0.85" stroke-opacity="0.9"/>
<path d="M214 334.3L216.9 337.2L214 340.1L211.1 337.2Z" fill="none" stroke="#2f6fff" stroke-width="0.85" stroke-opacity="0.9"/>
<path d="M243.7 315.8L246.6 318.7L243.7 321.6L240.8 318.7Z" fill="none" stroke="#2f6fff" stroke-width="0.85" stroke-opacity="0.9"/>
<path d="M273.5 298.5L276.4 301.4L273.5 304.3L270.6 301.4Z" fill="none" stroke="#2f6fff" stroke-width="0.85" stroke-opacity="0.9"/>
<path d="M303.5 280.1L306.4 283L303.5 285.9L300.6 283Z" fill="none" stroke="#2f6fff" stroke-width="0.85" stroke-opacity="0.9"/>
<path d="M363 235L365.9 237.9L363 240.8L360.1 237.9Z" fill="none" stroke="#2f6fff" stroke-width="0.85" stroke-opacity="0.9"/>
<circle cx="164.7" cy="361.1" r="2.6" fill="none" stroke="#ea3838" stroke-width="0.85" stroke-opacity="0.9"/>
<circle cx="176.4" cy="355.3" r="2.6" fill="none" stroke="#ea3838" stroke-width="0.85" stroke-opacity="0.9"/>
<circle cx="198.9" cy="338.9" r="2.6" fill="none" stroke="#ea3838" stroke-width="0.85" stroke-opacity="0.9"/>
<circle cx="221.5" cy="330.8" r="2.6" fill="none" stroke="#ea3838" stroke-width="0.85" stroke-opacity="0.9"/>
<circle cx="243.7" cy="315.8" r="2.6" fill="none" stroke="#ea3838" stroke-width="0.85" stroke-opacity="0.9"/>
<circle cx="266" cy="304" r="2.6" fill="none" stroke="#ea3838" stroke-width="0.85" stroke-opacity="0.9"/>
<circle cx="288.5" cy="293.5" r="2.6" fill="none" stroke="#ea3838" stroke-width="0.85" stroke-opacity="0.9"/>
<circle cx="310.7" cy="276.1" r="2.6" fill="none" stroke="#ea3838" stroke-width="0.85" stroke-opacity="0.9"/>
<circle cx="333.3" cy="264.5" r="2.6" fill="none" stroke="#ea3838" stroke-width="0.85" stroke-opacity="0.9"/>
<circle cx="333.3" cy="266.7" r="2.6" fill="none" stroke="#ea3838" stroke-width="0.85" stroke-opacity="0.9"/>
<circle cx="355.8" cy="252.6" r="2.6" fill="none" stroke="#ea3838" stroke-width="0.85" stroke-opacity="0.9"/>
<circle cx="378.1" cy="239.4" r="2.6" fill="none" stroke="#ea3838" stroke-width="0.85" stroke-opacity="0.9"/>
<circle cx="400.6" cy="226" r="2.6" fill="none" stroke="#ea3838" stroke-width="0.85" stroke-opacity="0.9"/>
<rect x="64.6" y="219.9" width="338.3" height="185.9" fill="none" stroke="#303030" stroke-width="1"/>
<text x="61.3" y="225.4" font-size="13.0" text-anchor="end" fill="#000000" stroke="#000000" stroke-width="0.25" >15</text>
<text x="61.3" y="286.57" font-size="13.0" text-anchor="end" fill="#000000" stroke="#000000" stroke-width="0.25" >10</text>
<text x="61.3" y="348.13" font-size="13.0" text-anchor="end" fill="#000000" stroke="#000000" stroke-width="0.25" >5</text>
<text x="61.3" y="409.5" font-size="13.0" text-anchor="end" fill="#000000" stroke="#000000" stroke-width="0.25" >0</text>
<text x="65" y="421.3" font-size="13.0" text-anchor="middle" fill="#000000" stroke="#000000" stroke-width="0.25" >0</text>
<text x="149.57" y="421.3" font-size="13.0" text-anchor="middle" fill="#000000" stroke="#000000" stroke-width="0.25" >5</text>
<text x="234.15" y="421.3" font-size="13.0" text-anchor="middle" fill="#000000" stroke="#000000" stroke-width="0.25" >10</text>
<text x="318.72" y="421.3" font-size="13.0" text-anchor="middle" fill="#000000" stroke="#000000" stroke-width="0.25" >15</text>
<text x="403.3" y="421.3" font-size="13.0" text-anchor="middle" fill="#000000" stroke="#000000" stroke-width="0.25" >20</text>
<text x="272.4" y="431.5" font-size="16.6" text-anchor="middle" fill="#000000" stroke="#000000" stroke-width="0.25" letter-spacing="-0.3">D/d</text>
<text x="90.8" y="243.7" font-size="17.0" text-anchor="start" fill="#000000" stroke="#000000" stroke-width="0.25" letter-spacing="0.2">(b)</text>
<line x1="202.5" y1="374.8" x2="234" y2="374.8" stroke="#666666" stroke-width="1.1" />
<text x="238" y="378.6" font-size="11.3" text-anchor="start" fill="#5e5e5e" stroke="#5e5e5e" stroke-width="0.0" >[0.56^(2/5)] [ D/d - 1.49 ]</text>
<text transform="translate(24,388.6) rotate(-90)" font-size="16.5" fill="#000000" stroke="#000000" stroke-width="0.15">{ <tspan dx="1.2">W</tspan> / [ <tspan font-size="17.5" dx="-0.6">&#961;</tspan><tspan dy="8.5" dx="-0.6" font-size="12.0">b</tspan><tspan dy="-8.5" dx="1.6"> (g </tspan><tspan dx="-0.2">d</tspan><tspan dy="-8.7" dx="-0.5" font-size="12.2">5</tspan><tspan dy="8.7" dx="0">)</tspan><tspan dy="-8.7" dx="0.8" font-size="12.2" letter-spacing="0.1">1/2</tspan><tspan dy="8.7" dx="-2.8000000000000003"> ]</tspan><tspan> }</tspan><tspan dy="-8.7" dx="0.3" font-size="12.2" letter-spacing="0.1">2/5</tspan></text>
</g>
</svg></body></html>
